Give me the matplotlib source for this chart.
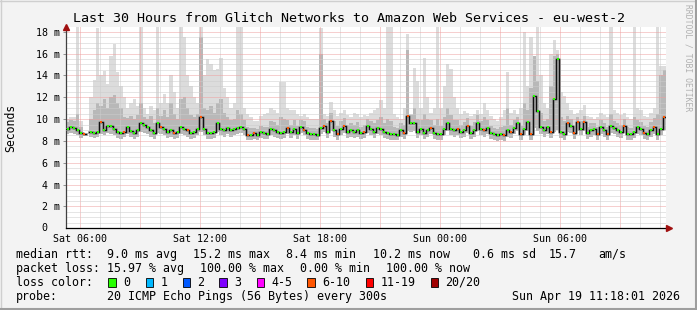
import numpy as np
import matplotlib
matplotlib.use('Agg')
import matplotlib.pyplot as plt
from matplotlib.patches import Rectangle
from matplotlib.lines import Line2D

plt.rcParams['font.family'] = 'DejaVu Sans Mono'

title = 'Last 30 Hours from Glitch Networks to Amazon Web Services - eu-west-2'

# time axis in hours after Sat 00:00, graph ends Sun 11:18:01
start_h = 5 + 18 / 60 + 1 / 3600
span_h = 30
step_h = 10 / 60

x_ticks = [6, 12, 18, 24, 30]
x_labels = ['Sat 06:00', 'Sat 12:00', 'Sat 18:00', 'Sun 00:00', 'Sun 06:00']
y_ticks = [2, 4, 6, 8, 10, 12, 14, 16, 18]
y_labels = ['2 m', '4 m', '6 m', '8 m', '10 m', '12 m', '14 m', '16 m', '18 m']

nan = float('nan')

# median rtt in ms, one value per 10 minutes
median = [
    9.1, 9.3, 9.2, 9.0, 8.7, 8.6, nan, 8.8, 8.7, 8.8, 9.7, 9.0, 9.4, 9.4, 9.1,
    8.8, 8.7, 8.8, 9.3, 8.9, 8.7, 9.0, 9.6, 9.5, 9.3, 9.0, 8.7, 9.6, 9.3, 9.1,
    8.8, 9.0, 8.7, 8.8, 9.3, 9.1, 9.0, 8.7, 8.8, 9.1, 10.2, 9.1, 8.7, 8.7, 8.8,
    9.6, 9.1, 9.0, 9.2, 9.0, 9.1, 9.2, 9.3, 9.1, 8.5, 8.5, 8.7, 8.5, 8.8, 8.7,
    8.6, 9.1, 9.0, 8.8, 8.7, 8.8, 9.2, 8.8, 9.1, 8.7, 9.3, 9.0, 8.7, 8.6, 8.6,
    8.5, 9.2, 9.4, 8.8, 9.8, 9.0, 8.6, 9.1, 9.4, 8.8, 9.0, 8.8, 9.0, 8.7, 8.8,
    9.4, 9.1, 8.8, 9.2, 9.1, 8.8, 8.7, 8.6, 8.6, 8.5, 9.0, 8.7, 10.3, 9.6, 9.6,
    8.8, 9.1, 8.7, 9.0, 9.2, 8.7, 8.6, 8.6, 9.1, 9.6, 9.1, 9.0, 9.1, 8.8, 9.0,
    9.4, 8.7, 9.0, 9.6, 9.1, 9.0, 9.2, 8.7, 8.6, 8.5, 8.6, 8.5, 9.0, 8.8, 9.2,
    9.6, 8.6, 9.1, 9.7, 8.6, 12.1, 10.7, 9.3, 9.0, 9.3, 8.8, 11.8, 15.5, 8.8, 8.6,
    9.6, 9.4, 8.7, 9.7, 9.1, 9.7, 8.7, 9.0, 9.1, 8.6, 9.3, 9.0, 8.6, 9.4, 9.2,
    9.0, 8.8, 9.4, 8.6, 8.6, 8.8, 9.3, 9.1, 8.7, 8.6, 9.0, 9.3, 8.6, 9.1, 10.2,
]

# slowest ping of each round (top of the smoke)
smoke_max = [
    10.0, 10.2, 10.2, 18.9, 9.8, 9.4, nan, 12.0, 13.6, 18.3, 14.0, 14.4, 13.2, 15.8, 16.9,
    14.3, 13.0, 12.0, 11.0, 11.5, 11.8, 11.2, 18.9, 11.0, 10.5, 11.2, 10.8, 18.9, 11.5, 12.3,
    11.5, 14.0, 12.5, 11.0, 18.9, 17.5, 14.0, 13.0, 12.0, 11.5, 18.9, 14.0, 15.5, 15.0, 14.5,
    14.6, 15.6, 12.8, 12.0, 11.0, 11.5, 18.9, 18.5, 11.0, 10.5, 10.2, 9.8, 9.8, 10.3, 10.5,
    10.6, 11.0, 10.8, 10.6, 13.4, 13.4, 11.0, 10.8, 10.8, 10.5, 10.3, 10.5, 10.2, 10.0, 10.0,
    10.0, 18.3, 10.5, 10.3, 11.6, 10.8, 10.3, 10.6, 10.8, 10.4, 10.2, 10.6, 10.5, 10.2, 10.4,
    10.3, 10.6, 10.8, 11.0, 11.7, 11.0, 18.9, 18.9, 10.5, 10.2, 10.0, 11.0, 17.8, 10.5, 14.7,
    13.5, 11.0, 15.6, 12.0, 10.6, 11.0, 18.9, 11.0, 13.0, 15.0, 14.6, 12.0, 11.0, 10.5, 10.7,
    10.6, 10.3, 10.5, 10.8, 10.5, 11.5, 10.8, 10.3, 10.0, 9.8, 10.2, 10.8, 14.3, 10.6, 10.8,
    10.5, 11.0, 18.0, 13.0, 17.5, 15.8, 18.9, 14.0, 11.5, 11.0, 16.0, 17.2, 16.3, 12.5, 12.1,
    11.5, 10.8, 10.5, 10.6, 10.8, 11.3, 10.3, 10.2, 10.0, 10.2, 10.6, 10.4, 10.2, 18.9, 10.8,
    10.6, 10.4, 10.6, 10.2, 10.0, 18.9, 11.0, 10.8, 10.3, 10.2, 10.6, 11.0, 18.9, 14.9, 14.9,
]

# upper edge of the dense part of the smoke
smoke_mid = [
    9.7, 9.9, 9.8, 10.5, 9.3, 9.1, nan, 10.0, 10.8, 11.5, 11.2, 11.8, 11.0, 12.0, 12.2,
    11.5, 11.0, 10.2, 10.1, 10.3, 10.0, 10.4, 11.5, 10.2, 10.0, 10.3, 9.6, 11.0, 10.3, 10.8,
    10.2, 11.5, 10.5, 10.0, 11.8, 12.0, 11.0, 10.4, 10.2, 10.5, 17.5, 11.0, 10.8, 11.2, 10.6,
    11.5, 11.8, 10.6, 10.2, 9.9, 10.0, 10.8, 10.5, 9.9, 9.3, 9.2, 9.2, 9.1, 9.4, 9.3,
    9.3, 9.8, 9.7, 9.5, 10.2, 10.0, 9.9, 9.5, 9.9, 9.4, 9.9, 9.8, 9.3, 9.2, 9.2,
    9.1, 16.0, 10.0, 9.6, 10.6, 9.8, 9.4, 9.8, 10.1, 9.5, 9.6, 9.5, 9.7, 9.3, 9.5,
    10.0, 9.8, 9.6, 9.9, 10.2, 9.6, 10.0, 9.8, 9.3, 9.2, 9.6, 9.5, 16.3, 10.4, 11.0,
    10.0, 9.9, 10.5, 10.0, 9.9, 9.5, 10.0, 9.4, 10.2, 11.0, 10.4, 9.9, 9.9, 9.5, 9.7,
    10.1, 9.4, 9.7, 10.4, 9.8, 10.2, 9.9, 9.4, 9.2, 9.1, 9.3, 9.4, 11.0, 9.5, 9.9,
    10.2, 9.4, 11.5, 10.8, 12.8, 15.8, 13.5, 10.6, 9.8, 10.0, 13.0, 15.8, 16.0, 10.2, 9.8,
    10.3, 10.0, 9.4, 10.2, 9.8, 10.3, 9.3, 9.6, 9.6, 9.3, 9.9, 9.6, 9.3, 10.5, 9.8,
    9.6, 9.5, 10.0, 9.3, 9.2, 10.2, 9.9, 9.7, 9.4, 9.3, 9.7, 10.1, 10.5, 14.0, 14.5,
]

# fastest ping of each round (bottom of the smoke)
smoke_min = [
    8.6, 8.7, 8.6, 8.5, 8.3, 8.3, nan, 8.4, 8.3, 8.4, 8.6, 8.5, 8.7, 8.6, 8.5,
    8.3, 8.2, 8.4, 8.6, 8.4, 8.2, 8.4, 8.8, 8.7, 8.6, 8.4, 8.2, 8.7, 8.6, 8.5,
    8.3, 8.4, 8.2, 8.3, 8.6, 8.5, 8.4, 8.2, 8.3, 8.5, 8.8, 8.5, 8.2, 8.2, 8.3,
    8.8, 8.5, 8.4, 8.6, 8.4, 8.5, 8.6, 8.7, 8.5, 8.1, 8.1, 8.2, 8.1, 8.3, 8.2,
    8.2, 8.5, 8.4, 8.3, 8.2, 8.3, 8.6, 8.3, 8.5, 8.2, 8.7, 8.5, 8.2, 8.1, 8.1,
    8.1, 8.6, 8.8, 8.3, 8.9, 8.4, 8.1, 8.5, 8.7, 8.3, 8.4, 8.3, 8.4, 8.2, 8.3,
    8.7, 8.5, 8.3, 8.6, 8.5, 8.3, 8.2, 8.1, 8.1, 8.1, 8.4, 8.2, 8.9, 8.8, 8.9,
    8.3, 8.5, 8.2, 8.4, 8.6, 8.2, 8.1, 8.1, 8.5, 8.9, 8.5, 8.4, 8.5, 8.3, 8.4,
    8.7, 8.2, 8.4, 8.9, 8.5, 8.4, 8.6, 8.2, 8.1, 8.0, 8.1, 8.0, 8.4, 8.3, 8.6,
    8.9, 8.1, 8.5, 8.9, 8.1, 9.2, 8.9, 8.6, 8.4, 8.6, 8.3, 8.8, 9.0, 8.3, 8.1,
    8.8, 8.7, 8.2, 8.9, 8.5, 8.9, 8.2, 8.4, 8.5, 8.1, 8.6, 8.4, 8.1, 8.7, 8.6,
    8.4, 8.3, 8.7, 8.1, 8.1, 8.3, 8.6, 8.5, 8.2, 8.1, 8.4, 8.6, 8.1, 8.5, 9.0,
]

# pings lost out of 20 per round
lost = [
    0, 0, 0, 0, 0, 7, 0, 0, 0, 0, 7, 0, 0, 0, 0, 0, 0, 7, 0, 0,
    0, 0, 0, 0, 0, 0, 0, 0, 7, 0, 0, 0, 7, 0, 0, 0, 7, 0, 0, 0,
    7, 0, 0, 0, 0, 0, 0, 0, 0, 0, 0, 0, 0, 0, 7, 0, 7, 0, 0, 0,
    0, 0, 0, 0, 0, 0, 7, 0, 0, 0, 0, 7, 0, 0, 0, 0, 0, 7, 0, 7,
    0, 7, 0, 7, 0, 0, 0, 0, 0, 7, 0, 0, 0, 0, 0, 0, 0, 0, 0, 0,
    0, 7, 7, 0, 0, 0, 0, 0, 0, 7, 0, 0, 0, 0, 0, 0, 0, 7, 0, 0,
    7, 0, 0, 0, 0, 7, 0, 0, 0, 0, 0, 7, 0, 7, 0, 0, 7, 0, 0, 7,
    0, 0, 0, 0, 0, 7, 0, 0, 0, 0, 7, 0, 7, 7, 0, 7, 0, 0, 0, 7,
    0, 0, 7, 0, 0, 0, 0, 7, 0, 0, 0, 0, 0, 7, 0, 0, 7, 0, 0, 7,
]

loss_names = ['0', '1', '2', '3', '4-5', '6-10', '11-19', '20/20']
loss_colors = ['#26ff00', '#00b8ff', '#0059ff', '#7e00ff', '#ff00ff', '#ff5500', '#ff0000', '#a00000']


def loss_color(n):
    if n <= 3:
        return loss_colors[n]
    if n <= 5:
        return loss_colors[4]
    if n <= 10:
        return loss_colors[5]
    if n <= 19:
        return loss_colors[6]
    return loss_colors[7]


W, H = 697, 310


def fx(px):
    return px / W


def fy(py):
    return 1 - py / H


fig = plt.figure(figsize=(W / 100, H / 100), dpi=100, facecolor='#f3f3f3')
ax_left, ax_right, ax_top, ax_bottom = 66, 666, 27.3, 228.3
ax = fig.add_axes([fx(ax_left), fy(ax_bottom), (ax_right - ax_left) / W, (ax_bottom - ax_top) / H])
ax.set_facecolor('white')

n = len(median)
t = start_h + np.arange(n) * step_h
edges = start_h + np.arange(n + 1) * step_h


def ext(v):
    v = np.asarray(v, dtype=float)
    return np.append(v, v[-1])


# smoke
ax.fill_between(edges, ext(smoke_min), ext(smoke_max), step='post', color='#dcdcdc', lw=0, zorder=1)
ax.fill_between(edges, ext(smoke_min), ext(smoke_mid), step='post', color='#b8b8b8', lw=0, zorder=1.1)

# grid on top of the smoke
for h in range(6, 36):
    major = h % 3 == 0
    ax.axvline(h, color='#eea0a0' if major else '#cccccc', lw=0.72, ls=(0, (1, 1)), zorder=2)
for v in np.arange(0.5, 18.4, 0.5):
    major = abs(v % 2) < 1e-9
    ax.axhline(v, color='#eea0a0' if major else '#cccccc', lw=0.72, ls=(0, (1, 1)), zorder=2)

# median with loss colour
ax.step(edges, ext(median), where='post', color='#8a8a8a', lw=1.9, zorder=3)
ax.step(edges, ext(median), where='post', color='#111111', lw=0.8, zorder=4)
ax.hlines(median, t + 0.2 * step_h, t + 0.8 * step_h, colors=[loss_color(x) for x in lost],
          lw=1.5, zorder=5)

ax.set_xlim(start_h, start_h + span_h)
ax.set_ylim(0, 18.4)

ax.set_xticks(x_ticks)
ax.set_xticklabels(x_labels, fontsize=7.2)
ax.tick_params(axis='x', length=0, pad=4)
ax.set_yticks(y_ticks)
ax.set_yticklabels(y_labels, fontsize=7.2)
ax.tick_params(axis='y', length=2.2, pad=2.2, color='#909090', width=0.7)

for s in ['top', 'right']:
    ax.spines[s].set_visible(False)
ax.spines['left'].set_color('#404040')
ax.spines['left'].set_linewidth(0.9)
ax.spines['bottom'].set_color('black')
ax.spines['bottom'].set_linewidth(0.9)

# axis arrows
ax.plot([0], [1.0], marker='^', ms=4, color='#a01010', transform=ax.transAxes, clip_on=False, zorder=6)
ax.plot([1.005], [0], marker='>', ms=4, color='#a01010', transform=ax.transAxes, clip_on=False, zorder=6)

fig.text(fx(47), fy(228.3), '0', fontsize=7.2, ha='right', va='center')

fig.text(fx(349), fy(18), title, fontsize=9.6, ha='center', va='center')
fig.text(fx(11), fy(128), 'Seconds', fontsize=8.3, rotation=90, ha='center', va='center')
fig.text(fx(688), fy(58), 'RRDTOOL / TOBI OETIKER', fontsize=5.8, rotation=270,
         color='#b0b0b0', ha='center', va='center')

# legend rows
fs = 8.4
row1, row2, row3, row4 = 254.3, 268.3, 282.3, 296.3
fig.text(fx(16), fy(row1), 'median rtt:', fontsize=fs, va='center')
for xp, s in [(107.3, '9.0 ms avg'), (193, '15.2 ms max'), (286, '8.4 ms min'),
              (372.7, '10.2 ms now'), (473, '0.6 ms sd'), (549, '15.7'), (598, 'am/s')]:
    fig.text(fx(xp), fy(row1), s, fontsize=fs, va='center')

fig.text(fx(16), fy(row2), 'packet loss:', fontsize=fs, va='center')
for xp, s in [(107.3, '15.97 % avg'), (200, '100.00 % max'), (300, '0.00 % min'),
              (386, '100.00 % now')]:
    fig.text(fx(xp), fy(row2), s, fontsize=fs, va='center')

fig.text(fx(16), fy(row3), 'loss color:', fontsize=fs, va='center')
box_x = [108.3, 145.7, 182.7, 219.3, 256.7, 307.3, 365.7, 430.7]
for bx, name, col in zip(box_x, loss_names, loss_colors):
    fig.add_artist(Rectangle((fx(bx), fy(row3 + 4.5)), 7.2 / W, 8.6 / H, transform=fig.transFigure,
                             facecolor=col, edgecolor='black', lw=0.6))
    fig.text(fx(bx + 14.5), fy(row3), name, fontsize=fs, va='center')

fig.text(fx(16), fy(row4), 'probe:', fontsize=fs, va='center')
fig.text(fx(107.3), fy(row4), '20 ICMP Echo Pings (56 Bytes) every 300s', fontsize=fs, va='center')
fig.text(fx(680), fy(row4), 'Sun Apr 19 11:18:01 2026', fontsize=fs, va='center', ha='right')

# 3d frame of the canvas
fig.add_artist(Line2D([0, 1], [fy(0.5), fy(0.5)], transform=fig.transFigure, color='#cfcfcf', lw=1))
fig.add_artist(Line2D([fx(0.5), fx(0.5)], [0, 1], transform=fig.transFigure, color='#cfcfcf', lw=1))
fig.add_artist(Line2D([0, 1], [fy(309), fy(309)], transform=fig.transFigure, color='#9e9e9e', lw=1.5))
fig.add_artist(Line2D([fx(696), fx(696)], [0, 1], transform=fig.transFigure, color='#9e9e9e', lw=1.5))

fig.savefig('out.png', dpi=100, facecolor=fig.get_facecolor())
